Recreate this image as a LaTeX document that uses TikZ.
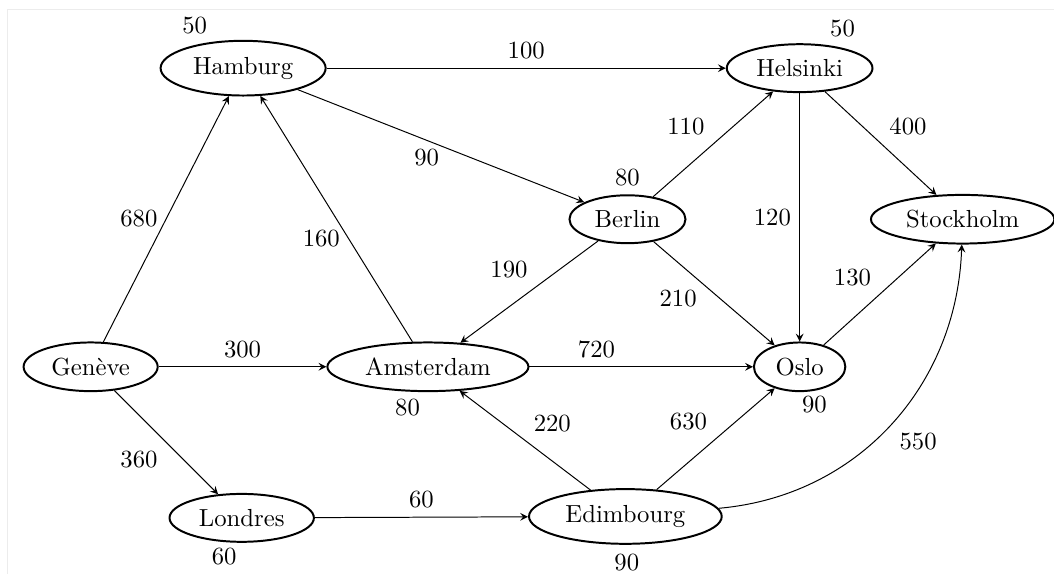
\documentclass[tikz,border=0pt]{standalone}
\usetikzlibrary{shapes.geometric}

\tikzset{
  city/.style={draw, ellipse, thick},
  weight/.style={inner sep=1pt},
  route/.style={-stealth}
}

\begin{document}
\begin{tikzpicture}
    \useasboundingbox (0,0) rectangle (15,-8.165);
    \draw[gray!15] (0.11,-8.165) -- (0.11,-0.14) -- (15,-0.14);

    % villes
    \node[city] (ham) at (3.46,-0.97) {Hamburg};
    \node[city] (hel) at (11.38,-0.97) {Helsinki};
    \node[city] (ber) at (8.93,-3.12) {Berlin};
    \node[city] (sto) at (13.70,-3.12) {Stockholm};
    \node[city] (gen) at (1.29,-5.22) {Genève};
    \node[city] (ams) at (6.09,-5.22) {Amsterdam};
    \node[city] (osl) at (11.38,-5.22) {Oslo};
    \node[city] (lon) at (3.44,-7.37) {Londres};
    \node[city] (edi) at (8.90,-7.35) {Edimbourg};

    % poids des villes
    \node[weight] (wham) at (2.77,-0.36) {50};
    \node[weight] (whel) at (11.99,-0.40) {50};
    \node[weight] (wber) at (8.93,-2.52) {80};
    \node[weight] (wams) at (5.80,-5.80) {80};
    \node[weight] (wosl) at (11.59,-5.76) {90};
    \node[weight] (wlon) at (3.19,-7.92) {60};
    \node[weight] (wedi) at (8.92,-8.01) {90};

    % routes
    \draw[route] (ham) -- node[above]{100} (hel);
    \draw[route] (ham) -- node[below, pos=0.45]{90} (ber);
    \draw[route] (ber) -- node[above left]{110} (hel);
    \draw[route] (hel) -- node[above right]{400} (sto);
    \draw[route] (hel) -- node[left]{120} (osl);
    \draw[route] (gen) -- node[left]{680} (ham);
    \draw[route] (ams) -- node[left, pos=0.42]{160} (ham);
    \draw[route] (ber) -- node[above left, pos=0.45]{190} (ams);
    \draw[route] (ber) -- node[left=6pt, pos=0.55]{210} (osl);
    \draw[route] (osl) -- node[above left]{130} (sto);
    \draw[route] (gen) -- node[above]{300} (ams);
    \draw[route] (ams) -- node[above, pos=0.3]{720} (osl);
    \draw[route] (gen) -- node[below left]{360} (lon);
    \draw[route] (edi) -- node[above right]{220} (ams);
    \draw[route] (edi) -- node[above left]{630} (osl);
    \draw[route] (lon) -- node[above]{60} (edi);
    \draw[route] (edi) to[out=5, in=-92] node[below right, pos=0.5]{550} (sto);
\end{tikzpicture}
\end{document}
